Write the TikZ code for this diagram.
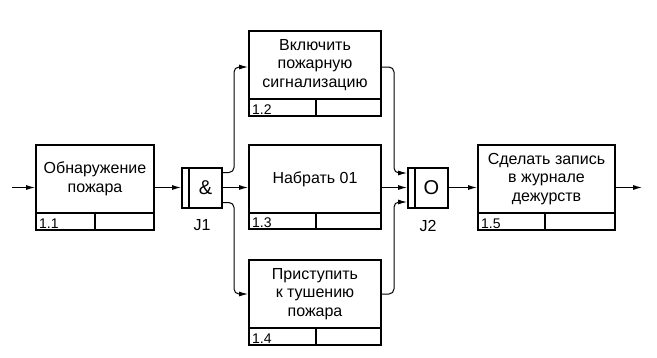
\documentclass[tikz,border=0pt]{standalone}
\usepackage{fontspec}
\setmainfont{Liberation Sans}
\usetikzlibrary{arrows.meta,fit,calc}
\tikzset{
  fbx/.style={draw, line width=2pt, inner sep=0pt, line join=miter},
  jbx/.style={draw, line width=2pt, inner sep=0pt, line join=miter},
  divl/.style={line width=1.6pt},
  btxt/.style={align=center, inner sep=0pt, font=\fontsize{16}{18.5}\selectfont},
  bnum/.style={inner sep=0pt, font=\fontsize{14}{16}\selectfont},
  jsym/.style={inner sep=0pt, font=\fontsize{20}{22}\selectfont},
  jlab/.style={inner sep=0pt, font=\fontsize{16}{18}\selectfont},
  arr/.style={line width=1pt, -{Latex[length=9pt,width=5pt]}},
}
\newcommand\idefbox[9]{%
  \node[fbx, fit={(#2,#3) (#4,#5)}] (#1) {};
  \draw[divl] (#2,#7) -- (#4,#7) (#6,#7) -- (#6,#5);
  \node[btxt] (#1-t) at ({(#2+#4)/2},{(#3+#7)/2}) {#9};
  \node[bnum, anchor=base west] (#1-n) at ({#2+3},{#5-2}) {#8};
}
\newcommand\idefjunc[5]{%
  \node[jbx, fit={(#2,#3) ({#2+40},{#3+40})}] (#1) {};
  \draw[divl] ({#2+7},#3) -- ({#2+7},{#3+40});
  \node[jsym] (#1-s) at ({#2+23.5},{#3+20}) {#4};
  \node[jlab] (#1-l) at ({#2+20},{#3+58}) {#5};
}
\begin{document}
\begin{tikzpicture}[x=1pt,y=-1pt]
\useasboundingbox[fill=white] (0,0) rectangle (657,357);
\idefbox{b11}{36}{145}{154}{230}{95}{213}{1.1}{Обнаружение\\пожара}
\idefbox{b12}{249}{31}{381}{116}{316}{99}{1.2}{Включить\\пожарную\\сигнализацию}
\idefbox{b13}{249}{145}{381}{229}{316}{213}{1.3}{Набрать 01}
\idefbox{b14}{249}{260}{381}{345}{316}{328}{1.4}{Приступить\\к тушению\\пожара}
\idefbox{b15}{478}{145}{615}{230}{545}{213}{1.5}{Сделать запись\\в журнале\\дежурств}
\idefjunc{J1}{182}{167.5}{\&}{J1}
\idefjunc{J2}{408}{167.5}{O}{J2}
\coordinate (in) at (12,187.5);
\coordinate (out) at (642,187.5);
\draw[arr] (in) -- (b11);
\draw[arr] (b11) -- (J1);
\draw[arr] (J1.east) -- (J1.east -| b13.west);
\draw[arr, rounded corners=5pt] ([yshift=15pt]J1.east) -- ++(11,0) |- ([yshift=6.5pt]b12.west);
\draw[arr, rounded corners=5pt] ([yshift=-15pt]J1.east) -- ++(11,0) |- ([yshift=8.5pt]b14.west);
\draw[arr, rounded corners=5pt] ([yshift=6.5pt]b12.east) -- ++(12,0) |- ([yshift=14.5pt]J2.west);
\draw[arr] (J2.west -| b13.east) -- (J2.west);
\draw[arr, rounded corners=5pt] ([yshift=8.5pt]b14.east) -- ++(12,0) |- ([yshift=-14.5pt]J2.west);
\draw[arr] (J2) -- (b15);
\draw[arr] (b15) -- (out);
\end{tikzpicture}
\end{document}
